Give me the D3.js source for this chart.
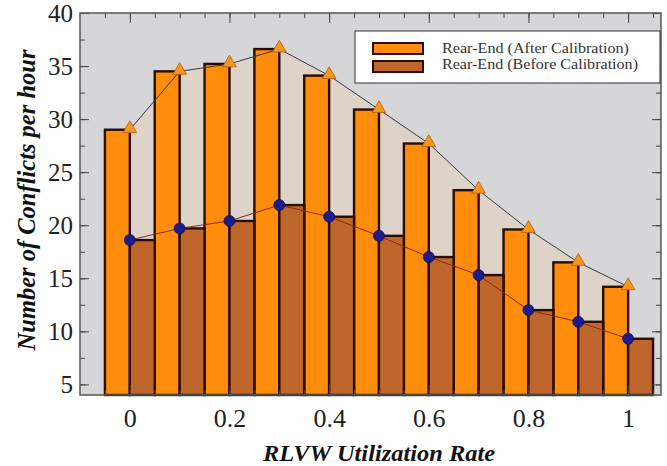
<!DOCTYPE html>
<html>
<head>
<meta charset="utf-8">
<script src="https://cdn.jsdelivr.net/npm/d3@7"></script>
<style>
  html, body { margin: 0; padding: 0; background: #ffffff; }
  svg { display: block; }
</style>
</head>
<body>
<svg id="chart" width="667" height="466"></svg>
<script>
// Utilization rates and conflicts per hour for each calibration state
const rates = [0, 0.1, 0.2, 0.3, 0.4, 0.5, 0.6, 0.7, 0.8, 0.9, 1.0];
const afterCalibration = [29.0, 34.5, 35.2, 36.6, 34.1, 30.9, 27.7, 23.3, 19.6, 16.5, 14.2];
const beforeCalibration = [18.6, 19.7, 20.4, 21.9, 20.8, 19.0, 17.0, 15.3, 12.0, 10.9, 9.3];

const xMajorTicks = [0, 0.2, 0.4, 0.6, 0.8, 1];
const xTickLabels = ["0", "0.2", "0.4", "0.6", "0.8", "1"];
const yMajorTicks = [5, 10, 15, 20, 25, 30, 35, 40];
const yTickLabels = ["5", "10", "15", "20", "25", "30", "35", "40"];

const seriesNames = ["Rear-End (After Calibration)", "Rear-End (Before Calibration)"];

const W = 667, H = 466;
const plot = { left: 80, top: 13, right: 661, bottom: 395 };
const halfStep = 0.05;

const ORANGE = "#ff8c0a";
const BROWN = "#bf662c";
const BAR_EDGE = "#2a0c02";
const serif = "'Liberation Serif', 'Times New Roman', serif";

const svg = d3.select("#chart");

const x = d3.scaleLinear().domain([-0.1, 1.066]).range([plot.left, plot.right]);
const y = d3.scaleLinear().domain([4, 40]).range([plot.bottom, plot.top]);

const rows = rates.map((r, i) => ({ r, after: afterCalibration[i], before: beforeCalibration[i] }));

// plot background
svg.append("rect")
  .attr("x", plot.left).attr("y", plot.top)
  .attr("width", plot.right - plot.left).attr("height", plot.bottom - plot.top)
  .attr("fill", "#d6d6d8");

// band between the two curves
const band = d3.area()
  .x(d => x(d.r))
  .y0(d => y(d.before))
  .y1(d => y(d.after));
svg.append("path").datum(rows)
  .attr("d", band)
  .attr("fill", "#ddd3c8");

// bars: after calibration to the left of each rate, before calibration to the right
const bars = svg.append("g");
bars.selectAll("rect.after").data(rows).join("rect")
  .attr("class", "after")
  .attr("x", d => x(d.r - halfStep))
  .attr("width", d => x(d.r) - x(d.r - halfStep))
  .attr("y", d => y(d.after))
  .attr("height", d => y(4) - y(d.after))
  .attr("fill", ORANGE)
  .attr("stroke", BAR_EDGE)
  .attr("stroke-width", 2.4);
bars.selectAll("rect.before").data(rows).join("rect")
  .attr("class", "before")
  .attr("x", d => x(d.r))
  .attr("width", d => x(d.r + halfStep) - x(d.r))
  .attr("y", d => y(d.before))
  .attr("height", d => y(4) - y(d.before))
  .attr("fill", BROWN)
  .attr("stroke", BAR_EDGE)
  .attr("stroke-width", 2.4);

// connecting lines
const lineAfter = d3.line().x(d => x(d.r)).y(d => y(d.after));
const lineBefore = d3.line().x(d => x(d.r)).y(d => y(d.before));
svg.append("path").datum(rows).attr("d", lineAfter)
  .attr("fill", "none").attr("stroke", "#3a3a3a").attr("stroke-width", 1);
svg.append("path").datum(rows).attr("d", lineBefore)
  .attr("fill", "none").attr("stroke", "#8c2a10").attr("stroke-width", 1);

// markers
const tri = d3.symbol().type(d3.symbolTriangle).size(80);
svg.append("g").selectAll("path").data(rows).join("path")
  .attr("d", tri)
  .attr("transform", d => `translate(${x(d.r)},${y(d.after) - 1})`)
  .attr("fill", "#f7961e")
  .attr("stroke", "#b0600e")
  .attr("stroke-width", 0.8);
svg.append("g").selectAll("circle").data(rows).join("circle")
  .attr("cx", d => x(d.r))
  .attr("cy", d => y(d.before))
  .attr("r", 5.5)
  .attr("fill", "#1c1c8e")
  .attr("stroke", "#10105c")
  .attr("stroke-width", 0.8);

// axes with inward ticks
const xMinor = d3.range(-0.05, 1.06, 0.05).map(v => +v.toFixed(2));
const yMinor = d3.range(5, 40.1, 2.5);

function styleAxis(g) {
  g.select(".domain").remove();
  g.selectAll("line").attr("stroke", "#444").attr("stroke-width", 1);
}

svg.append("g").attr("transform", `translate(0,${plot.bottom})`)
  .call(d3.axisBottom(x).tickValues(xMinor).tickSize(-5).tickFormat(""))
  .call(styleAxis);
svg.append("g").attr("transform", `translate(0,${plot.bottom})`)
  .call(d3.axisBottom(x).tickValues(xMajorTicks).tickSize(-10).tickPadding(14)
    .tickFormat((d, i) => xTickLabels[i]))
  .call(styleAxis)
  .call(g => g.selectAll("text")
    .attr("font-family", serif).attr("font-size", 26).attr("fill", "#222"));

svg.append("g").attr("transform", `translate(0,${plot.top})`)
  .call(d3.axisTop(x).tickValues(xMinor).tickSize(-5).tickFormat(""))
  .call(styleAxis);
svg.append("g").attr("transform", `translate(0,${plot.top})`)
  .call(d3.axisTop(x).tickValues(xMajorTicks).tickSize(-10).tickFormat(""))
  .call(styleAxis);

svg.append("g").attr("transform", `translate(${plot.left},0)`)
  .call(d3.axisLeft(y).tickValues(yMinor).tickSize(-5).tickFormat(""))
  .call(styleAxis);
svg.append("g").attr("transform", `translate(${plot.left},0)`)
  .call(d3.axisLeft(y).tickValues(yMajorTicks).tickSize(-9).tickPadding(7)
    .tickFormat((d, i) => yTickLabels[i]))
  .call(styleAxis)
  .call(g => g.selectAll("text")
    .attr("font-family", serif).attr("font-size", 25).attr("fill", "#222"));

svg.append("g").attr("transform", `translate(${plot.right},0)`)
  .call(d3.axisRight(y).tickValues(yMinor).tickSize(-5).tickFormat(""))
  .call(styleAxis);
svg.append("g").attr("transform", `translate(${plot.right},0)`)
  .call(d3.axisRight(y).tickValues(yMajorTicks).tickSize(-9).tickFormat(""))
  .call(styleAxis);

// frame
svg.append("rect")
  .attr("x", plot.left).attr("y", plot.top)
  .attr("width", plot.right - plot.left).attr("height", plot.bottom - plot.top)
  .attr("fill", "none").attr("stroke", "#555").attr("stroke-width", 1.5);

// axis titles
svg.append("text")
  .attr("x", 379).attr("y", 461)
  .attr("text-anchor", "middle")
  .attr("font-family", serif).attr("font-size", 24)
  .attr("font-weight", "bold").attr("font-style", "italic")
  .attr("fill", "#111")
  .attr("textLength", 232).attr("lengthAdjust", "spacingAndGlyphs")
  .text("RLVW Utilization Rate");
svg.append("text")
  .attr("transform", `translate(35,${(plot.top + plot.bottom) / 2 - 4}) rotate(-90)`)
  .attr("text-anchor", "middle")
  .attr("font-family", serif).attr("font-size", 24.5)
  .attr("font-weight", "bold").attr("font-style", "italic")
  .attr("fill", "#111")
  .text("Number of Conflicts per hour");

// legend
const legend = svg.append("g");
legend.append("rect")
  .attr("x", 355).attr("y", 31).attr("width", 305).attr("height", 52)
  .attr("fill", "#ffffff").attr("stroke", "#333").attr("stroke-width", 1);
const legendColors = [ORANGE, BROWN];
seriesNames.forEach((name, i) => {
  legend.append("rect")
    .attr("x", 373).attr("y", 43 + i * 18).attr("width", 50).attr("height", 11)
    .attr("fill", legendColors[i]).attr("stroke", BAR_EDGE).attr("stroke-width", 2);
  legend.append("text")
    .attr("x", 442).attr("y", 53 + i * 16)
    .attr("font-family", serif).attr("font-size", 15).attr("fill", "#333")
    .attr("textLength", i === 0 ? 187 : 196).attr("lengthAdjust", "spacingAndGlyphs")
    .text(name);
});
</script>
</body>
</html>
